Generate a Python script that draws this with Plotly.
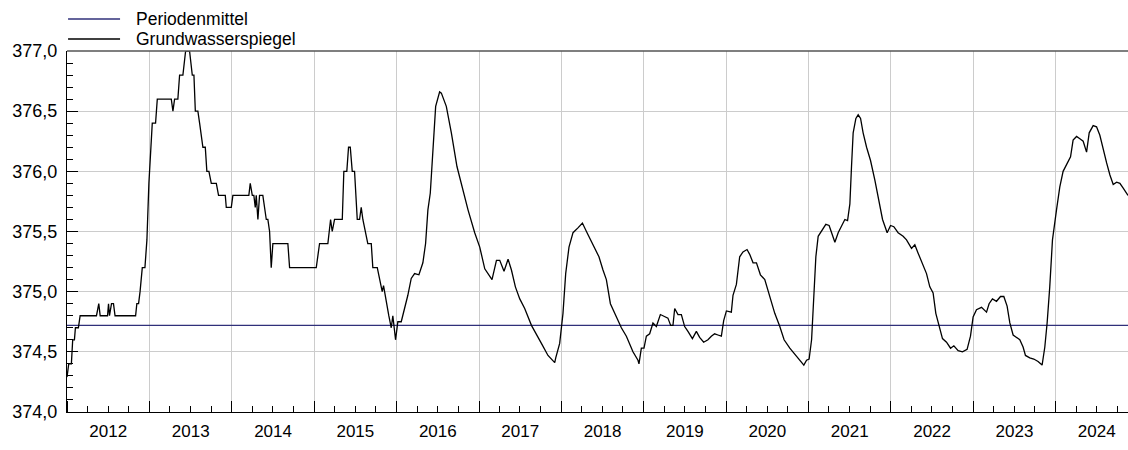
import plotly.graph_objects as go
from datetime import datetime

# Decimal years of the read-off points
years = [
2012.000,2012.021,2012.053,2012.069,2012.090,2012.102,2012.138,2012.159,2012.357,2012.385,
2012.402,2012.491,2012.503,2012.515,2012.539,2012.563,2012.582,2012.831,2012.846,2012.867,
2012.885,2012.912,2012.944,2012.968,2012.992,2013.033,2013.073,2013.094,2013.264,2013.284,
2013.304,2013.344,2013.365,2013.405,2013.438,2013.486,2013.519,2013.539,2013.556,2013.587,
2013.608,2013.648,2013.677,2013.696,2013.721,2013.750,2013.811,2013.838,2013.920,2013.932,
2013.993,2014.012,2014.206,2014.223,2014.248,2014.267,2014.284,2014.296,2014.316,2014.336,
2014.376,2014.418,2014.437,2014.458,2014.478,2014.498,2014.680,2014.701,2015.025,2015.065,
2015.166,2015.199,2015.219,2015.247,2015.341,2015.360,2015.396,2015.417,2015.438,2015.462,
2015.490,2015.523,2015.551,2015.571,2015.591,2015.624,2015.651,2015.693,2015.712,2015.766,
2015.794,2015.826,2015.842,2015.875,2015.906,2015.936,2015.955,2015.988,2016.016,2016.057,
2016.097,2016.137,2016.178,2016.219,2016.271,2016.319,2016.352,2016.380,2016.409,2016.441,
2016.474,2016.522,2016.543,2016.603,2016.664,2016.732,2016.786,2016.866,2016.947,2017.008,
2017.069,2017.109,2017.157,2017.211,2017.251,2017.303,2017.352,2017.393,2017.441,2017.494,
2017.554,2017.636,2017.696,2017.757,2017.837,2017.898,2017.919,2017.931,2017.979,2018.019,
2018.052,2018.092,2018.141,2018.201,2018.255,2018.304,2018.384,2018.456,2018.505,2018.546,
2018.595,2018.668,2018.728,2018.789,2018.869,2018.930,2018.942,2018.971,2019.003,2019.032,
2019.072,2019.112,2019.153,2019.202,2019.254,2019.294,2019.327,2019.355,2019.376,2019.416,
2019.457,2019.497,2019.537,2019.591,2019.639,2019.679,2019.728,2019.780,2019.821,2019.861,
2019.901,2019.943,2019.971,2020.004,2020.064,2020.084,2020.125,2020.165,2020.205,2020.254,
2020.286,2020.327,2020.368,2020.416,2020.469,2020.529,2020.590,2020.651,2020.703,2020.772,
2020.845,2020.902,2020.942,2020.975,2021.006,2021.036,2021.064,2021.088,2021.116,2021.157,
2021.209,2021.249,2021.291,2021.319,2021.359,2021.400,2021.440,2021.473,2021.501,2021.521,
2021.541,2021.574,2021.602,2021.631,2021.662,2021.704,2021.752,2021.804,2021.857,2021.898,
2021.954,2021.995,2022.035,2022.087,2022.148,2022.189,2022.250,2022.290,2022.330,2022.371,
2022.432,2022.472,2022.512,2022.545,2022.585,2022.626,2022.675,2022.724,2022.764,2022.816,
2022.869,2022.925,2022.966,2022.998,2023.039,2023.100,2023.161,2023.192,2023.233,2023.282,
2023.331,2023.371,2023.411,2023.444,2023.484,2023.532,2023.565,2023.605,2023.634,2023.686,
2023.735,2023.787,2023.836,2023.869,2023.897,2023.929,2023.962,2024.011,2024.051,2024.091,
2024.139,2024.181,2024.212,2024.254,2024.294,2024.334,2024.375,2024.407,2024.455,2024.496,
2024.536,2024.577,2024.618,2024.658,2024.698,2024.739,2024.779,2024.819,2024.877,
]

# Groundwater level (m a.s.l.)
levels = [
374.29,374.40,374.40,374.60,374.60,374.70,374.70,374.80,374.80,374.90,
374.80,374.80,374.90,374.80,374.90,374.90,374.80,374.80,374.90,374.90,
375.00,375.20,375.20,375.43,375.90,376.40,376.40,376.60,376.60,376.50,
376.60,376.60,376.80,376.80,377.00,377.00,376.80,376.80,376.50,376.50,
376.40,376.20,376.20,376.00,376.00,375.90,375.90,375.80,375.80,375.70,
375.70,375.80,375.80,375.90,375.80,375.80,375.70,375.80,375.60,375.80,
375.80,375.60,375.60,375.50,375.20,375.40,375.40,375.20,375.20,375.40,
375.40,375.60,375.50,375.60,375.60,376.00,376.00,376.20,376.20,376.00,
376.00,375.60,375.60,375.70,375.60,375.50,375.40,375.40,375.20,375.20,
375.10,375.00,375.05,374.90,374.80,374.70,374.80,374.60,374.75,374.75,
374.86,374.97,375.11,375.15,375.14,375.24,375.40,375.68,375.82,376.23,
376.54,376.66,376.65,376.54,376.32,376.04,375.89,375.68,375.49,375.37,
375.19,375.15,375.10,375.26,375.26,375.17,375.27,375.18,375.04,374.94,
374.86,374.72,374.65,374.57,374.47,374.43,374.41,374.45,374.57,374.82,
375.15,375.37,375.49,375.53,375.57,375.50,375.39,375.29,375.18,375.10,
374.90,374.79,374.70,374.63,374.50,374.43,374.40,374.53,374.53,374.63,
374.65,374.74,374.71,374.81,374.79,374.78,374.72,374.72,374.86,374.81,
374.81,374.71,374.67,374.61,374.67,374.62,374.58,374.60,374.63,374.65,
374.64,374.63,374.76,374.84,374.83,374.97,375.06,375.29,375.33,375.35,
375.31,375.24,375.24,375.14,375.10,374.96,374.82,374.71,374.60,374.53,
374.47,374.43,374.39,374.43,374.44,374.60,374.93,375.29,375.46,375.50,
375.56,375.55,375.46,375.41,375.49,375.55,375.60,375.59,375.73,376.04,
376.32,376.44,376.47,376.44,376.32,376.20,376.09,375.93,375.76,375.60,
375.49,375.55,375.54,375.49,375.46,375.43,375.36,375.39,375.32,375.25,
375.15,375.04,374.99,374.82,374.71,374.61,374.58,374.53,374.55,374.51,
374.50,374.52,374.63,374.79,374.85,374.87,374.83,374.90,374.94,374.92,
374.96,374.96,374.88,374.74,374.64,374.62,374.60,374.54,374.47,374.45,
374.44,374.42,374.39,374.54,374.74,375.04,375.43,375.68,375.87,376.00,
376.07,376.12,376.26,376.29,376.27,376.25,376.16,376.32,376.38,376.37,
376.30,376.18,376.07,375.97,375.89,375.91,375.90,375.86,375.80,
]

period_mean = 374.72
x_start_year = 2012.0
x_end_year = 2024.877
y_range = [374.0, 377.0]
legend_names = ["Periodenmittel", "Grundwasserspiegel"]


def to_date(t):
    y = int(t)
    a = datetime(y, 1, 1)
    b = datetime(y + 1, 1, 1)
    return a + (b - a) * (t - y)


dates = [to_date(t) for t in years]
x0 = to_date(x_start_year)
x1 = to_date(x_end_year)

FONT = "Liberation Sans, Arial, sans-serif"
TEXT_COLOR = "#000000"
MEAN_COLOR = "#30307a"
LINE_COLOR = "#000000"

fig = go.Figure()
fig.add_trace(go.Scatter(x=[x0, x1], y=[period_mean, period_mean], mode="lines",
                         line=dict(color=MEAN_COLOR, width=1.2),
                         name=legend_names[0], showlegend=False, hoverinfo="skip"))
fig.add_trace(go.Scatter(x=dates, y=levels, mode="lines",
                         line=dict(color=LINE_COLOR, width=1.3),
                         name=legend_names[1], showlegend=False))

# manual legend (lines + labels above the plot)
leg_rows = [(1.0886, MEAN_COLOR, legend_names[0]), (1.0332, LINE_COLOR, legend_names[1])]
for yp, col, txt in leg_rows:
    fig.add_shape(type="line", xref="paper", yref="paper", x0=0.001, x1=0.05,
                  y0=yp, y1=yp, line=dict(color=col, width=1.3))
    fig.add_annotation(xref="paper", yref="paper", x=0.063, y=yp, text=txt,
                       showarrow=False, xanchor="left", yanchor="middle",
                       font=dict(family=FONT, size=17.5, color=TEXT_COLOR))

# top border
fig.add_shape(type="line", xref="paper", yref="paper", x0=0, x1=1, y0=1, y1=1,
              line=dict(color="#555555", width=1.5))

fig.update_layout(
    width=1128, height=450,
    margin=dict(l=67, r=0, t=51, b=38),
    paper_bgcolor="white", plot_bgcolor="white",
    separators=",.",
    showlegend=False,
    font=dict(family=FONT, size=17, color=TEXT_COLOR),
    xaxis=dict(
        type="date", range=[x0, x1],
        dtick="M12", tick0="2012-01-01", tickformat="%Y",
        ticklabelmode="period", ticklabelstandoff=3,
        ticks="inside", ticklen=11, tickcolor="#000000", tickwidth=1,
        showgrid=True, gridcolor="#cccccc", gridwidth=1.3,
        showline=True, linecolor="#000000", linewidth=1.2,
        minor=dict(dtick="M3", ticks="inside", ticklen=6, tickcolor="#000000", showgrid=False),
        tickfont=dict(family=FONT, size=17, color=TEXT_COLOR),
        zeroline=False,
    ),
    yaxis=dict(
        range=y_range, dtick=0.5, tick0=374.0, tickformat=".1f",
        ticklabelstandoff=5,
        ticks="inside", ticklen=11, tickcolor="#000000", tickwidth=1,
        showgrid=True, gridcolor="#cccccc", gridwidth=1.3,
        showline=True, linecolor="#000000", linewidth=1.2,
        minor=dict(dtick=0.1, ticks="inside", ticklen=6, tickcolor="#000000", showgrid=False),
        tickfont=dict(family=FONT, size=18, color=TEXT_COLOR),
        zeroline=False,
    ),
)

fig.write_html("out.html")
